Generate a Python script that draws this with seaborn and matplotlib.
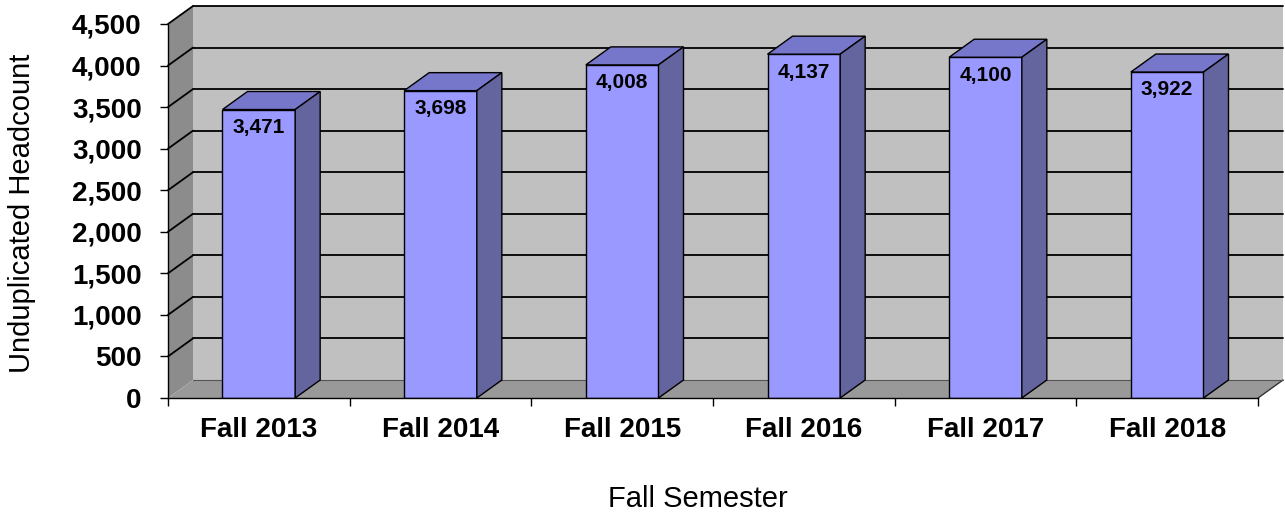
import numpy as np
import seaborn as sns
import matplotlib.pyplot as plt
from matplotlib.patches import Polygon
from matplotlib.ticker import FuncFormatter

semesters = ["Fall 2013", "Fall 2014", "Fall 2015", "Fall 2016", "Fall 2017", "Fall 2018"]
headcount = [3471, 3698, 4008, 4137, 4100, 3922]
y_ticks = [0, 500, 1000, 1500, 2000, 2500, 3000, 3500, 4000, 4500]

sns.set_style("white")
plt.rcParams['font.family'] = ['Liberation Sans', 'DejaVu Sans']
plt.rcParams.update({'text.color': 'black', 'axes.labelcolor': 'black',
                     'xtick.color': 'black', 'ytick.color': 'black'})

fig = plt.figure(figsize=(12.85, 5.12), dpi=100)
ax = fig.add_axes([168 / 1285, 114 / 512, 1090 / 1285, 374 / 512])
ax.set_facecolor('none')

ymax = 4500
ax.set_xlim(-0.5, len(semesters) - 0.5)
ax.set_ylim(0, ymax)

# depth of the fake 3d box, in data units (25 px right, 18 px up)
dx = 25 / (1090 / len(semesters))
dy = 18 / (374 / ymax)

x0, x1 = -0.5, len(semesters) - 0.5
wall_kw = dict(clip_on=False, zorder=0.5, lw=0)
ax.add_patch(Polygon([(x0 + dx, dy), (x1 + dx, dy), (x1 + dx, ymax + dy), (x0 + dx, ymax + dy)],
                     facecolor='#C0C0C0', **wall_kw))
ax.add_patch(Polygon([(x0, 0), (x0 + dx, dy), (x0 + dx, ymax + dy), (x0, ymax)],
                     facecolor='#8C8C8C', **wall_kw))
ax.add_patch(Polygon([(x0, 0), (x1, 0), (x1 + dx, dy), (x0 + dx, dy)],
                     facecolor='#999999', **wall_kw))
ax.plot([x1, x1 + dx], [0, dy], color='#333333', lw=1, clip_on=False, zorder=0.6)

# gridlines on back and side wall
for v in y_ticks:
    if v == 0:
        ax.plot([x0 + dx, x1 + dx], [dy, dy], color='#555555', lw=0.8, clip_on=False, zorder=0.6)
        continue
    ax.plot([x0 + dx, x1 + dx], [v + dy, v + dy], color='black', lw=1.3, clip_on=False, zorder=0.6)
    ax.plot([x0, x0 + dx], [v, v + dy], color='black', lw=1.3, clip_on=False, zorder=0.6)

sns.barplot(x=semesters, y=headcount, color='#9999FF', saturation=1, width=0.4,
            edgecolor='black', linewidth=1, ax=ax, zorder=2)

for p, val in zip(ax.patches[3:], headcount):
    bx, bw, bh = p.get_x(), p.get_width(), p.get_height()
    top = [(bx, bh), (bx + bw, bh), (bx + bw + dx, bh + dy), (bx + dx, bh + dy)]
    side = [(bx + bw, 0), (bx + bw + dx, dy), (bx + bw + dx, bh + dy), (bx + bw, bh)]
    ax.add_patch(Polygon(top, facecolor='#7676CA', edgecolor='black', lw=1, zorder=2, clip_on=False))
    ax.add_patch(Polygon(side, facecolor='#64649E', edgecolor='black', lw=1, zorder=2, clip_on=False))
    ax.annotate(f"{val:,}", (bx + bw / 2, bh), xytext=(0, -6), textcoords='offset points',
                ha='center', va='top', fontsize=15, fontweight='bold', zorder=3)

for s in ['top', 'right']:
    ax.spines[s].set_visible(False)
for s in ['left', 'bottom']:
    ax.spines[s].set_color('black')
    ax.spines[s].set_linewidth(1)
    ax.spines[s].set_zorder(3)

ax.set_yticks(y_ticks)
ax.yaxis.set_major_formatter(FuncFormatter(lambda v, _: f"{v:,.0f}"))
ax.set_xticks(np.arange(-0.5, len(semesters)), minor=True)
ax.tick_params(axis='y', which='major', left=True, length=6, width=1, color='black',
               pad=13, labelsize=20)
ax.tick_params(axis='x', which='major', bottom=False, length=0, pad=14, labelsize=20)
ax.tick_params(axis='x', which='minor', bottom=True, length=6, width=1, color='black')
for lab in ax.get_xticklabels() + ax.get_yticklabels():
    lab.set_fontweight('bold')

ax.set_xlabel("Fall Semester", fontsize=21)
ax.set_ylabel("Unduplicated Headcount", fontsize=21)
ax.xaxis.set_label_coords(0.486, -0.232)
ax.yaxis.set_label_coords(-0.121, 0.495)

fig.savefig("out.png", dpi=100)
